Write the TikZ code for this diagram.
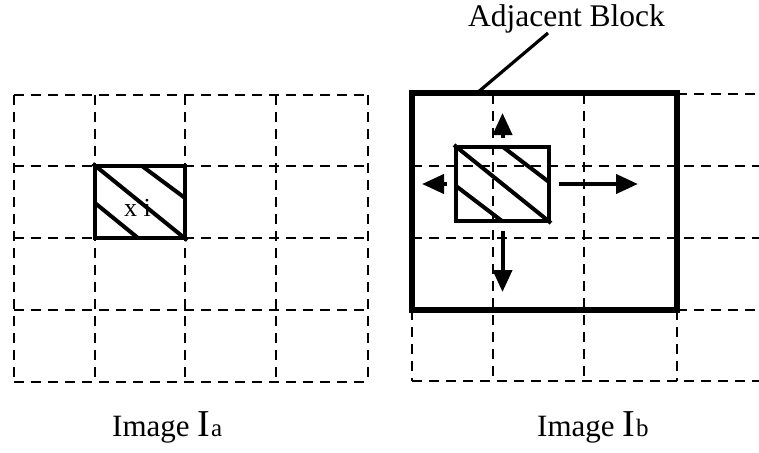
\documentclass[tikz,border=0pt]{standalone}
\usepackage{fontspec}
\setmainfont{Liberation Serif}
\usetikzlibrary{arrows.meta}
\begin{document}
\begin{tikzpicture}[x=1pt,y=-1pt,
  gridline/.style={line width=2.2pt, dash pattern=on 10pt off 7pt},
  hatchline/.style={line width=4pt},
  blockbox/.style={draw, line width=4.5pt, inner sep=0pt},
  movearrow/.style={line width=4pt, -{Triangle[length=22pt,width=19pt]}},
  leader/.style={line width=3.2pt},
  caption/.style={anchor=base west, inner sep=0pt},
]
\useasboundingbox (0,0) rectangle (759,452);

% ---------- Image I_a grid ----------
\foreach \x in {14,95,185,276,368} \draw[gridline] (\x,95) -- (\x,382);
\foreach \y in {95,166,238,310,382} \draw[gridline] (14,\y) -- (368,\y);

% hatched block x_i
\node[blockbox, minimum width=90pt, minimum height=72pt] (A) at (140,202) {};
\draw[hatchline] (A.north west) -- (A.south east);
\draw[hatchline] (142,166) -- (185,198);
\draw[hatchline] (95,203) -- (138,238);
\node[caption, font=\fontsize{26}{28}\selectfont] (xi) at (124,216) {x i};

% ---------- Image I_b grid ----------
\foreach \x in {493,584} \draw[gridline] (\x,94) -- (\x,381);
\foreach \x in {412,677} \draw[gridline] (\x,310) -- (\x,381);
\foreach \y in {166,238,381} \draw[gridline] (412,\y) -- (759,\y);
\foreach \y in {94,310} \draw[gridline] (677,\y) -- (759,\y);

% adjacent block
\node[blockbox, line width=6pt, minimum width=265pt, minimum height=217pt] (adj) at (544.5,201.5) {};

% moving hatched block
\node[blockbox, line width=4pt, minimum width=93pt, minimum height=74pt] (B) at (502.5,184) {};
\draw[hatchline] (B.north west) -- (B.south east);
\draw[hatchline] (503,147) -- (549,182);
\draw[hatchline] (456,186) -- (502,221);

% arrows
\coordinate (upend) at (502.5,113);
\coordinate (leftend) at (422,184);
\coordinate (rightend) at (638,184);
\coordinate (downend) at (502.5,292);
\draw[movearrow] ([yshift=7pt]B.north) -- (upend);
\draw[movearrow] ([xshift=-7pt]B.west) -- (leftend);
\draw[movearrow] ([xshift=8pt]B.east) -- (rightend);
\draw[movearrow] ([yshift=-8pt]B.south) -- (downend);

% label
\node[anchor=base, inner sep=0pt, font=\fontsize{31.5}{33}\selectfont] (lbl) at (566.5,27) {Adjacent Block};
\coordinate (leadtop) at (548,33);
\coordinate (leadbot) at (477,93);
\draw[leader] (leadtop) -- (leadbot);

% captions
\node[caption] (capA) at (112,436) {\fontsize{31}{33}\selectfont Image \fontsize{38}{40}\selectfont I\fontsize{25}{27}\selectfont\kern1pt a};
\node[caption] (capB) at (537,436) {\fontsize{31}{33}\selectfont Image \fontsize{38}{40}\selectfont I\fontsize{25}{27}\selectfont\kern1pt b};
\end{tikzpicture}
\end{document}
